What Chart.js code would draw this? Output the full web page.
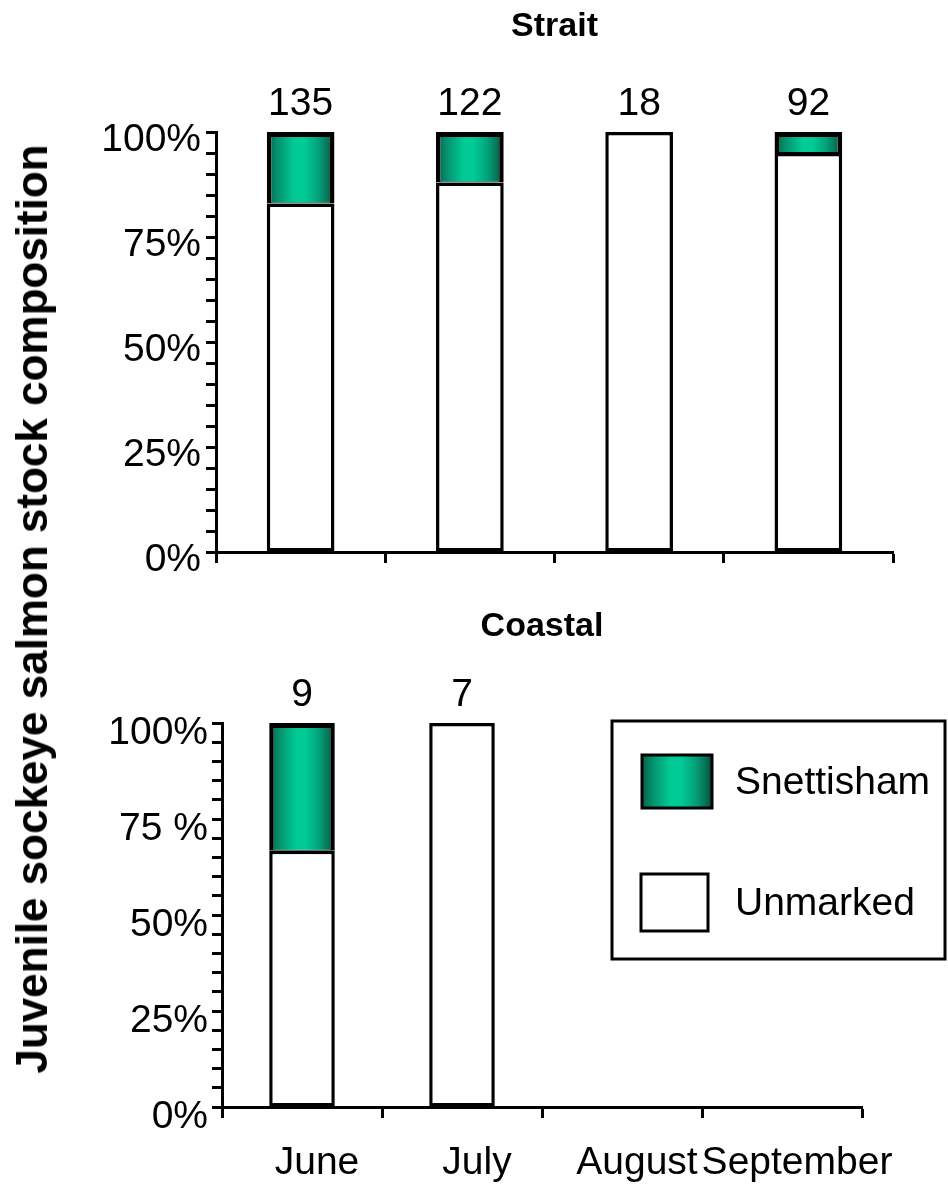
<!DOCTYPE html>
<html>
<head>
<meta charset="utf-8">
<title>Juvenile sockeye salmon stock composition</title>
<script src="https://cdn.jsdelivr.net/npm/chart.js@4.4.1/dist/chart.umd.min.js"></script>
<style>
  html, body { margin: 0; padding: 0; background: #fff; }
  #page { position: relative; width: 948px; height: 1184px; overflow: hidden; }
  #strait { position: absolute; left: 0; top: 0; }
  #coastal { position: absolute; left: 0; top: 600px; }
  #ytitle {
    position: absolute; left: 32px; top: 609px;
    transform: translate(-50%, -50%) rotate(-90deg);
    font: bold 44px "Liberation Sans", Arial, sans-serif;
    white-space: nowrap; color: #000;
  }
</style>
</head>
<body>
<div id="page">
  <canvas id="strait" width="948" height="600"></canvas>
  <canvas id="coastal" width="948" height="584"></canvas>
  <div id="ytitle">Juvenile sockeye salmon stock composition</div>
</div>
<script>
// Sampling months
const months = ['June', 'July', 'August', 'September'];

// Strait: percent of catch by stock, and fish sampled per month
const straitSnettisham = [17, 12, 0, 5];
const straitUnmarked   = [83, 88, 100, 95];
const straitSampleSize = [135, 122, 18, 92];

// Coastal: percent of catch by stock, and fish sampled per month
const coastalSnettisham = [33.3, 0, null, null];
const coastalUnmarked   = [66.7, 100, null, null];
const coastalSampleSize = [9, 7, null, null];

// Y-axis labels at 0, 25, 50, 75, 100
const straitPctLabels  = ['0%', '25%', '50%', '75%', '100%'];
const coastalPctLabels = ['0%', '25%', '50%', '75 %', '100%'];

const FONT = '"Liberation Sans", Arial, Helvetica, sans-serif';
Chart.defaults.font.family = FONT;
Chart.defaults.color = '#000';
Chart.defaults.animation = false;

// Horizontal teal shading across each Snettisham bar
function tealShade(c) {
  const chart = c.chart;
  if (c.type !== 'data' || !chart.chartArea || !chart.scales.x) return '#00b386';
  const xs = chart.scales.x;
  const ds = chart.data.datasets[c.datasetIndex];
  const cx = xs.getPixelForValue(c.dataIndex);
  const slot = xs.width / chart.data.labels.length;
  const half = slot * ds.barPercentage * ds.categoryPercentage / 2;
  return tealGradient(chart.ctx, cx - half, cx + half);
}
function tealGradient(ctx, x0, x1) {
  const g = ctx.createLinearGradient(x0, 0, x1, 0);
  g.addColorStop(0.00, '#06604a');
  g.addColorStop(0.15, '#05906c');
  g.addColorStop(0.40, '#00c994');
  g.addColorStop(0.55, '#00cc98');
  g.addColorStop(0.75, '#03a47c');
  g.addColorStop(0.90, '#067458');
  g.addColorStop(1.00, '#05493a');
  return g;
}

// Sample size written above each stacked bar
const sampleLabels = {
  id: 'sampleLabels',
  afterDatasetsDraw(chart, args, opts) {
    const { ctx, scales: { x, y } } = chart;
    ctx.save();
    ctx.font = `39px ${FONT}`;
    ctx.fillStyle = '#000';
    ctx.textAlign = 'center';
    ctx.textBaseline = 'alphabetic';
    opts.counts.forEach((n, i) => {
      if (n == null) return;
      const total = chart.data.datasets.reduce((s, d) => s + (d.data[i] || 0), 0);
      ctx.fillText(String(n), x.getPixelForValue(i), y.getPixelForValue(total) - opts.gap);
    });
    ctx.restore();
  }
};

// Boxed legend, Snettisham listed first
const boxLegend = {
  id: 'boxLegend',
  afterDraw(chart, args, opts) {
    if (!opts.show) return;
    const { ctx } = chart;
    const b = opts.box;
    ctx.save();
    ctx.lineWidth = 3;
    ctx.strokeStyle = '#000';
    ctx.fillStyle = '#fff';
    ctx.fillRect(b.x, b.y, b.w, b.h);
    ctx.strokeRect(b.x, b.y, b.w, b.h);
    const items = chart.data.datasets.slice().reverse();
    items.forEach((ds, k) => {
      const s = opts.swatches[k];
      ctx.fillStyle = ds.legendFill === 'teal' ? tealGradient(ctx, s.x, s.x + s.w) : ds.legendFill;
      ctx.fillRect(s.x, s.y, s.w, s.h);
      ctx.lineWidth = 3;
      ctx.strokeRect(s.x, s.y, s.w, s.h);
      ctx.fillStyle = '#000';
      ctx.font = `39px ${FONT}`;
      ctx.textAlign = 'left';
      ctx.textBaseline = 'middle';
      ctx.fillText(ds.label, opts.textX, s.y + s.h / 2 + 2);
    });
    ctx.restore();
  }
};

function makePanel(canvasId, cfg) {
  return new Chart(document.getElementById(canvasId), {
    type: 'bar',
    data: {
      labels: months,
      datasets: [
        {
          label: 'Unmarked',
          data: cfg.unmarked,
          backgroundColor: '#ffffff',
          legendFill: '#ffffff',
          borderColor: '#000',
          borderWidth: 3.5,
          borderSkipped: false,
          barPercentage: cfg.barPct,
          categoryPercentage: 1
        },
        {
          label: 'Snettisham',
          data: cfg.snettisham,
          backgroundColor: tealShade,
          legendFill: 'teal',
          borderColor: '#000',
          borderWidth: { top: 5, left: 4.5, right: 4.5, bottom: 1 },
          borderSkipped: false,
          barPercentage: cfg.barPct,
          categoryPercentage: 1
        }
      ]
    },
    options: {
      responsive: false,
      layout: { padding: { left: 0, right: cfg.padRight, top: 0, bottom: 0 } },
      plugins: {
        legend: { display: false },
        tooltip: { enabled: false },
        title: {
          display: true,
          text: cfg.title,
          fullSize: false,
          font: { size: 34, weight: 'bold', family: FONT },
          color: '#000',
          padding: { top: 6, bottom: cfg.titleGap }
        },
        sampleLabels: { counts: cfg.counts, gap: 17 },
        boxLegend: cfg.legend
      },
      scales: {
        x: {
          stacked: true,
          border: { color: '#000', width: 3 },
          grid: { offset: true, drawOnChartArea: false, drawTicks: true, tickLength: 11, tickColor: '#000', tickWidth: 3, color: '#000' },
          ticks: {
            display: cfg.showMonths,
            font: { size: 39 },
            color: '#000',
            padding: 22,
            labelOffset: 15,
            maxRotation: 0,
            autoSkip: false
          },
          afterFit(scale) { scale.height = cfg.xAxisHeight; }
        },
        y: {
          stacked: true,
          min: 0,
          max: 100,
          border: { color: '#000', width: 3 },
          grid: { drawOnChartArea: false, drawTicks: true, tickLength: 10, tickColor: '#000', tickWidth: 3, color: '#000' },
          ticks: {
            stepSize: 5,
            autoSkip: false,
            font: { size: 39 },
            color: '#000',
            padding: cfg.yPad,
            labelOffset: cfg.yLabelOffset,
            callback: (v) => (v % 25 === 0 ? cfg.pctLabels[v / 25] : '')
          },
          afterFit(scale) { scale.width = cfg.yAxisWidth; }
        }
      }
    },
    plugins: [sampleLabels, boxLegend]
  });
}

makePanel('strait', {
  title: 'Strait',
  unmarked: straitUnmarked,
  snettisham: straitSnettisham,
  counts: straitSampleSize,
  pctLabels: straitPctLabels,
  barPct: 0.40,
  padRight: 55,
  titleGap: 85.2,
  xAxisHeight: 48,
  yAxisWidth: 216,
  yPad: 5,
  yLabelOffset: 8,
  showMonths: false,
  legend: { show: false }
});

makePanel('coastal', {
  title: 'Coastal',
  unmarked: coastalUnmarked,
  snettisham: coastalSnettisham,
  counts: coastalSampleSize,
  pctLabels: coastalPctLabels,
  barPct: 0.41,
  padRight: 86,
  titleGap: 76.2,
  xAxisHeight: 77,
  yAxisWidth: 222,
  yPad: 4,
  yLabelOffset: 10,
  showMonths: true,
  legend: {
    show: true,
    box: { x: 612, y: 121, w: 333, h: 238 },
    swatches: [
      { x: 642, y: 155, w: 70, h: 53 },
      { x: 641, y: 274, w: 67, h: 57 }
    ],
    textX: 735
  }
});
</script>
</body>
</html>
